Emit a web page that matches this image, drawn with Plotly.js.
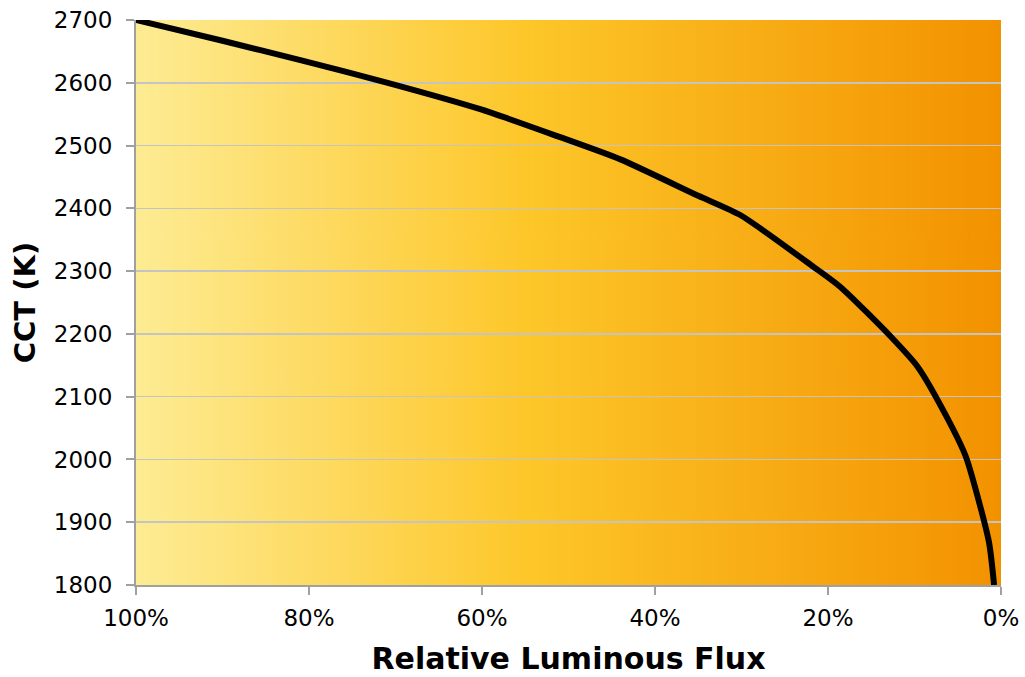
<!DOCTYPE html>
<html>
<head>
<meta charset="utf-8">
<script src="https://cdn.plot.ly/plotly-3.0.1.min.js"></script>
<style>html,body{margin:0;padding:0;background:#fff;}#chart{width:1025px;height:677px;}</style>
</head>
<body>
<div id="chart"></div>
<script>
// Relative luminous flux (%) and correlated colour temperature (K)
const fluxPct = [100, 90, 81, 70.9, 60.2, 51.3, 44, 35, 30.1, 21.6, 18.5, 12.7, 9.6, 6.4, 4.05, 1.4, 0.8];
const cctK    = [2700, 2667, 2636, 2600, 2558, 2515, 2478, 2420, 2389, 2306, 2274, 2195, 2147, 2071, 2004, 1869, 1800];
const xTickVals = [100, 80, 60, 40, 20, 0];
const xTickText = ['100%', '80%', '60%', '40%', '20%', '0%'];
const yTicks = [1800, 1900, 2000, 2100, 2200, 2300, 2400, 2500, 2600, 2700];

// gradient background image
const cv = document.createElement('canvas');
cv.width = 512; cv.height = 4;
const ctx = cv.getContext('2d');
const g = ctx.createLinearGradient(0, 0, 512, 0);
g.addColorStop(0, '#FDEC94');
g.addColorStop(0.45, '#FDC72A');
g.addColorStop(1, '#F39200');
ctx.fillStyle = g;
ctx.fillRect(0, 0, 512, 4);
const bgUrl = cv.toDataURL('image/png');

const font = 'DejaVu Sans, Verdana, sans-serif';

Plotly.newPlot('chart', [{
  x: fluxPct,
  y: cctK,
  type: 'scatter',
  mode: 'lines',
  line: {color: '#000000', width: 6, shape: 'spline', smoothing: 0.6},
  hoverinfo: 'x+y'
}], {
  width: 1025, height: 677,
  margin: {l: 136, r: 24, t: 20, b: 92},
  paper_bgcolor: '#ffffff',
  plot_bgcolor: 'rgba(0,0,0,0)',
  showlegend: false,
  font: {family: font, color: '#000000', size: 23},
  images: [{
    source: bgUrl, xref: 'paper', yref: 'paper', x: 0, y: 1,
    sizex: 1, sizey: 1, sizing: 'stretch', layer: 'below', xanchor: 'left', yanchor: 'top'
  }],
  xaxis: {
    range: [100, 0], tickmode: 'array', tickvals: xTickVals, ticktext: xTickText,
    showgrid: false, zeroline: false,
    showline: true, linecolor: '#a0a0a0', linewidth: 2,
    ticks: 'outside', ticklen: 8, tickwidth: 2, tickcolor: '#a0a0a0',
    ticklabelstandoff: 3,
    tickfont: {family: font, size: 23, color: '#000'},
    title: {text: 'Relative Luminous Flux', font: {family: font, size: 30, color: '#000', weight: 'bold'}, standoff: 18}
  },
  yaxis: {
    range: [1800, 2700], tickmode: 'array', tickvals: yTicks,
    showgrid: true, gridcolor: '#c4c4c4', gridwidth: 1.5, zeroline: false,
    showline: true, linecolor: '#a0a0a0', linewidth: 2,
    ticks: 'outside', ticklen: 8, tickwidth: 2, tickcolor: '#a0a0a0',
    ticklabelstandoff: 9,
    tickfont: {family: font, size: 23, color: '#000'},
    title: {text: 'CCT (K)', font: {family: font, size: 29, color: '#000', weight: 'bold'}, standoff: 10}
  }
}, {displayModeBar: false, staticPlot: true});
</script>
</body>
</html>
